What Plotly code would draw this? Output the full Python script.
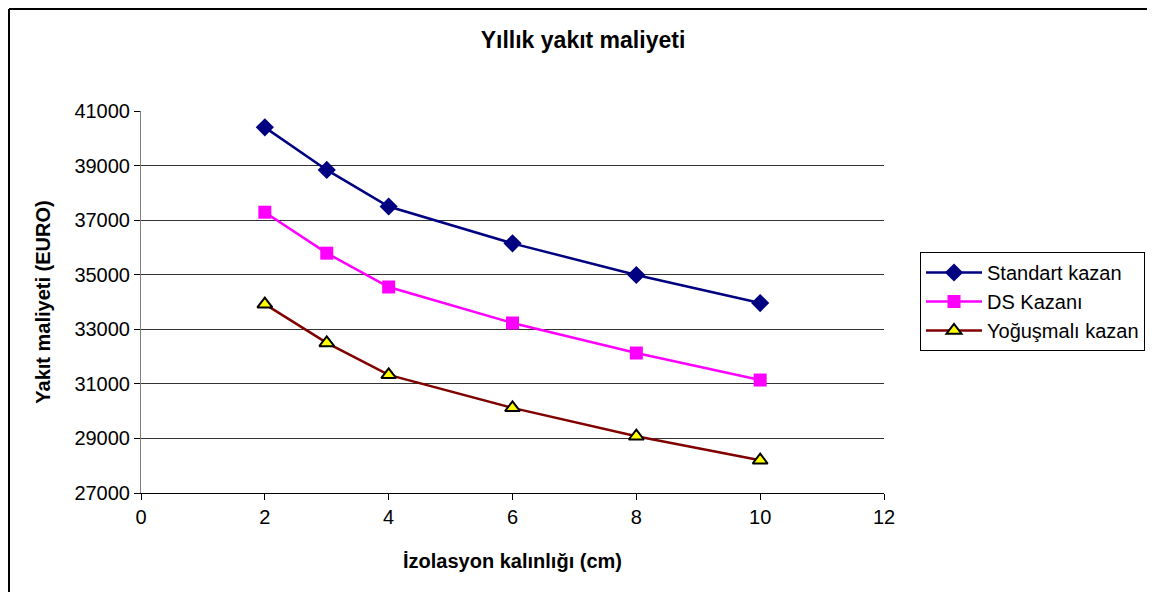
import plotly.graph_objects as go

thickness_cm = [2, 3, 4, 6, 8, 10]
standart_kazan = [40400, 38840, 37500, 36150, 34990, 33960]
ds_kazani = [37290, 35790, 34550, 33230, 32130, 31140]
yogusmali_kazan = [33920, 32500, 31330, 30120, 29080, 28200]

y_ticks = [27000, 29000, 31000, 33000, 35000, 37000, 39000, 41000]
x_ticks = [0, 2, 4, 6, 8, 10, 12]

# page has an 8px body margin, so the figure is drawn 8px in from the top-left
W, H = 1139, 584
L, T = 133, 103
pw, ph = 743, 382
R = W - L - pw
B = H - T - ph

font = "Liberation Sans, Arial, sans-serif"

fig = go.Figure()
fig.add_trace(go.Scatter(
    x=thickness_cm, y=standart_kazan, name="Standart kazan", mode="lines+markers",
    line=dict(color="#000080", width=2.5),
    marker=dict(symbol="diamond", size=14, color="#000080", line=dict(width=0))))
fig.add_trace(go.Scatter(
    x=thickness_cm, y=ds_kazani, name="DS Kazanı", mode="lines+markers",
    line=dict(color="#FF00FF", width=2.5),
    marker=dict(symbol="square", size=13, color="#FF00FF", line=dict(width=0))))
fig.add_trace(go.Scatter(
    x=thickness_cm, y=yogusmali_kazan, name="Yoğuşmalı kazan", mode="lines+markers",
    line=dict(color="#800000", width=2.5),
    marker=dict(symbol="triangle-up", size=13, color="#FFFF00", line=dict(width=2, color="black"))))

fig.update_layout(
    width=W, height=H,
    margin=dict(l=L, r=R, t=T, b=B, autoexpand=False),
    paper_bgcolor="white", plot_bgcolor="white",
    font=dict(family=font, size=20, color="black"),
    title=dict(text="<b>Yıllık yakıt maliyeti</b>", x=575 / W, xanchor="center",
               y=1 - 32 / H, yanchor="middle", font=dict(size=23, family=font)),
    legend=dict(x=(912 - L) / pw, y=1 - (244 - T) / ph, xanchor="left", yanchor="top",
                bordercolor="black", borderwidth=1, bgcolor="white",
                font=dict(size=20, family=font), tracegroupgap=0, itemwidth=56),
    showlegend=True,
)
fig.update_xaxes(
    range=[0, 12], tickvals=x_ticks, showgrid=False, zeroline=False,
    showline=True, linecolor="black", linewidth=1,
    ticks="outside", ticklen=6, tickcolor="black",
    tickfont=dict(size=20, family=font),
    title=dict(text="<b>İzolasyon kalınlığı (cm)</b>", font=dict(size=20, family=font), standoff=26),
)
fig.update_yaxes(
    range=[27000, 41000], tickvals=y_ticks, tickformat="d", showgrid=True,
    gridcolor="#333333", gridwidth=1,
    zeroline=False, showline=True, linecolor="#808080", linewidth=1,
    ticks="outside", ticklen=6, tickcolor="black",
    tickfont=dict(size=20, family=font),
    title=dict(text="<b>Yakıt maliyeti (EURO)</b>", font=dict(size=20, family=font), standoff=18),
)
# outer chart border (left and top visible)
bx = (1 - L) / pw
by = 1 + (T - 1) / ph
fig.add_shape(type="line", xref="paper", yref="paper",
              x0=bx, x1=bx, y0=-(B + 10) / ph, y1=by,
              line=dict(color="black", width=2))
fig.add_shape(type="line", xref="paper", yref="paper",
              x0=bx, x1=(W + 10 - L) / pw, y0=by, y1=by,
              line=dict(color="black", width=2))

fig.write_html("out.html")
